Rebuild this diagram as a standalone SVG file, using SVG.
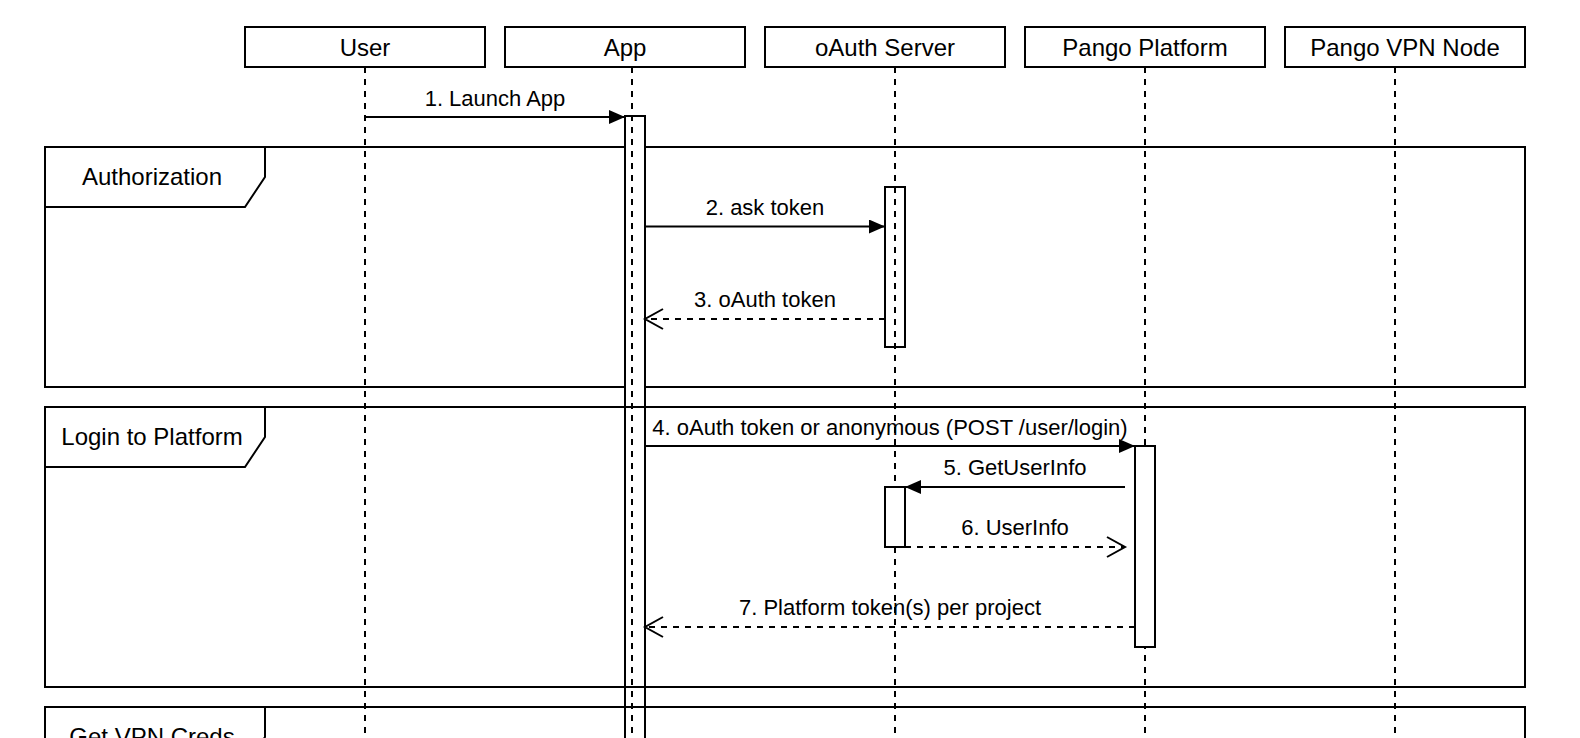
<svg xmlns="http://www.w3.org/2000/svg" width="1580" height="738" viewBox="0 0 1580 738">
<style>
.box{fill:#fff;stroke:#000;stroke-width:2}
.life{stroke:#000;stroke-width:2;stroke-dasharray:6 6;fill:none}
.frame{fill:none;stroke:#000;stroke-width:2}
.lbl{fill:#fff;stroke:#000;stroke-width:2}
.act{fill:#fff;stroke:#000;stroke-width:2}
.msg{stroke:#000;stroke-width:2;fill:none}
.ret{stroke-dasharray:6 6}
text{font-family:"Liberation Sans",Arial,Helvetica,sans-serif;fill:#000}
.h{font-size:24px;text-anchor:middle}
.m{font-size:22px;text-anchor:middle}
</style>
<defs>
<marker id="filled" markerUnits="userSpaceOnUse" markerWidth="18" markerHeight="16" refX="16" refY="7" orient="auto">
<path d="M0,0 L16,7 L0,14 z" fill="#000"/>
</marker>
<marker id="open" markerUnits="userSpaceOnUse" markerWidth="22" markerHeight="24" refX="19" refY="11" orient="auto">
<path d="M1,1 L19,11 L1,21" fill="none" stroke="#000" stroke-width="2"/>
</marker>
</defs>
<rect width="1580" height="738" fill="#fff"/>

<g id="frame-authorization">
<rect class="frame" x="45" y="147" width="1480" height="240"/>
<path class="lbl" d="M45,147 H265 V177 L245,207 H45 Z"/>
<text class="h" x="152" y="185">Authorization</text>
</g>

<g id="activations-back">
<rect id="act-app" class="act" x="625" y="116" width="20" height="660"/>
<rect id="act-oauth-1" class="act" x="885" y="187" width="20" height="160"/>
</g>

<g id="lifelines">
<line class="life" x1="365" y1="67" x2="365" y2="738"/>
<line class="life" x1="632" y1="67" x2="632" y2="738"/>
<line class="life" x1="895" y1="67" x2="895" y2="738"/>
<line class="life" x1="1145" y1="67" x2="1145" y2="738"/>
<line class="life" x1="1395" y1="67" x2="1395" y2="738"/>
</g>

<g id="activations-front">
<rect id="act-oauth-2" class="act" x="885" y="487" width="20" height="60"/>
<rect id="act-platform" class="act" x="1135" y="446" width="20" height="201"/>
</g>

<g id="frame-login">
<rect class="frame" x="45" y="407" width="1480" height="280"/>
<path class="lbl" d="M45,407 H265 V437 L245,467 H45 Z"/>
<text class="h" x="152" y="445">Login to Platform</text>
</g>

<g id="frame-vpn">
<rect class="frame" x="45" y="707" width="1480" height="120"/>
<path class="lbl" d="M45,707 H265 V737 L245,767 H45 Z"/>
<text class="h" x="152" y="745">Get VPN Creds</text>
</g>

<g id="user"><rect class="box" x="245" y="27" width="240" height="40"/><text class="h" x="365" y="56">User</text></g>
<g id="app"><rect class="box" x="505" y="27" width="240" height="40"/><text class="h" x="625" y="56">App</text></g>
<g id="oauth"><rect class="box" x="765" y="27" width="240" height="40"/><text class="h" x="885" y="56">oAuth Server</text></g>
<g id="platform"><rect class="box" x="1025" y="27" width="240" height="40"/><text class="h" x="1145" y="56">Pango Platform</text></g>
<g id="vpn"><rect class="box" x="1285" y="27" width="240" height="40"/><text class="h" x="1405" y="56">Pango VPN Node</text></g>

<g id="connectors">
<line class="msg" x1="365" y1="117" x2="625" y2="117" marker-end="url(#filled)"/>
<text class="m" x="495" y="106">1. Launch App</text>
<line class="msg" x1="645" y1="226.5" x2="885" y2="226.5" marker-end="url(#filled)"/>
<text class="m" x="765" y="215">2. ask token</text>
<line class="msg ret" x1="885" y1="319" x2="645" y2="319" marker-end="url(#open)"/>
<text class="m" x="765" y="307">3. oAuth token</text>
<line class="msg" x1="645" y1="446" x2="1135" y2="446" marker-end="url(#filled)"/>
<text class="m" x="890" y="435">4. oAuth token or anonymous (POST /user/login)</text>
<line class="msg" x1="1125" y1="487" x2="905" y2="487" marker-end="url(#filled)"/>
<text class="m" x="1015" y="475">5. GetUserInfo</text>
<line class="msg ret" x1="905" y1="547" x2="1125" y2="547" marker-end="url(#open)"/>
<text class="m" x="1015" y="535">6. UserInfo</text>
<line class="msg ret" x1="1135" y1="627" x2="645" y2="627" marker-end="url(#open)"/>
<text class="m" x="890" y="615">7. Platform token(s) per project</text>
</g>
</svg>
